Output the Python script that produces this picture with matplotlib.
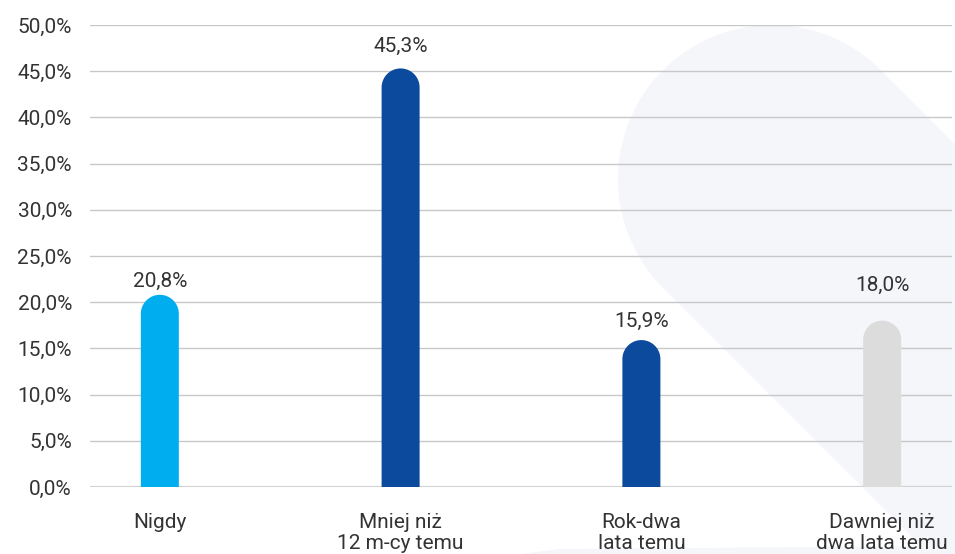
import numpy as np
import matplotlib
matplotlib.use("Agg")
import matplotlib.pyplot as plt
from matplotlib.patches import Polygon

categories = ["Nigdy", "Mniej niż\n12 m-cy temu", "Rok-dwa\nlata temu", "Dawniej niż\ndwa lata temu"]
values = [20.8, 45.3, 15.9, 18.0]
value_labels = ["20,8%", "45,3%", "15,9%", "18,0%"]
colors = ["#00AEEF", "#0B4A9C", "#0B4A9C", "#DCDCDC"]
yticks = [0, 5, 10, 15, 20, 25, 30, 35, 40, 45, 50]
ytick_labels = ["0,0%", "5,0%", "10,0%", "15,0%", "20,0%", "25,0%", "30,0%", "35,0%", "40,0%", "45,0%", "50,0%"]

# style: gap (pixels) between bar top and label baseline, as in the original layout
label_gap_px = [8, 17, 13, 30]

W, H = 955, 554
plt.rcParams['font.family'] = ['Roboto', 'DejaVu Sans']
fig = plt.figure(figsize=(W / 100, H / 100), dpi=100)
fig.patch.set_facecolor("white")

# decorative background capsule (image pixel coordinates)
cx, cy, r = 772, 179, 154
ang = np.linspace(-45, -225, 80)
pts = [(cx + r * np.cos(np.radians(a)), cy + r * np.sin(np.radians(a))) for a in ang]
L = 900
d = np.array([1, 1]) / np.sqrt(2)
p2 = np.array(pts[-1]) + L * d
p1 = np.array(pts[0]) + L * d
pts += [tuple(p2), tuple(p1)]
pts_fig = [(x / W, 1 - y / H) for x, y in pts]
fig.patches.append(Polygon(pts_fig, closed=True, transform=fig.transFigure,
                           facecolor="#F5F6FA", edgecolor="none", zorder=-5))
fig.patches.append(Polygon([(520 / W, 0), (560 / W, 1 - 549 / H), (955 / W, 1 - 546 / H), (1, 0)],
                           closed=True, transform=fig.transFigure,
                           facecolor="#F5F6FA", edgecolor="none", zorder=-5))

left, right, top, bottom = 90, 952, 25, 487
ax = fig.add_axes([left / W, 1 - bottom / H, (right - left) / W, (bottom - top) / H])
ax.set_facecolor("none")
ax.set_xlim(-0.29, 3.29)
ax.set_ylim(0, 50)

px_per_x = (right - left) / 3.58
px_per_y = (bottom - top) / 50
bar_px = 38
bw = bar_px / px_per_x
rad_y = (bar_px / 2) / px_per_y

x = np.arange(len(categories))
t = np.linspace(np.pi, 0, 60)
for xi, v, c in zip(x, values, colors):
    cap = [(xi + bw / 2 * np.cos(a), v - rad_y + rad_y * np.sin(a)) for a in t]
    poly = [(xi - bw / 2, 0)] + cap + [(xi + bw / 2, 0)]
    ax.add_patch(Polygon(poly, closed=True, facecolor=c, edgecolor="none", zorder=3))
    ax.annotate(value_labels[xi], (xi, v), xytext=(0, label_gap_px[xi] * 0.72),
                textcoords="offset points", ha="center", va="baseline",
                fontsize=15, color="#333333", zorder=4)

ax.set_yticks(yticks)
ax.set_yticklabels(ytick_labels, fontsize=15, color="#333333")
ax.set_xticks(x)
ax.set_xticklabels(categories, fontsize=15, color="#333333", linespacing=1.1, va="top")
ax.tick_params(axis="y", length=0, pad=13)
ax.tick_params(axis="x", length=0, pad=19)
ax.grid(axis="y", color="#C8C8C8", linewidth=1.0, zorder=0)
ax.axhline(0, color="#D6D6D6", linewidth=1.6, zorder=1)
for s in ax.spines.values():
    s.set_visible(False)

fig.savefig("out.png", dpi=100)
